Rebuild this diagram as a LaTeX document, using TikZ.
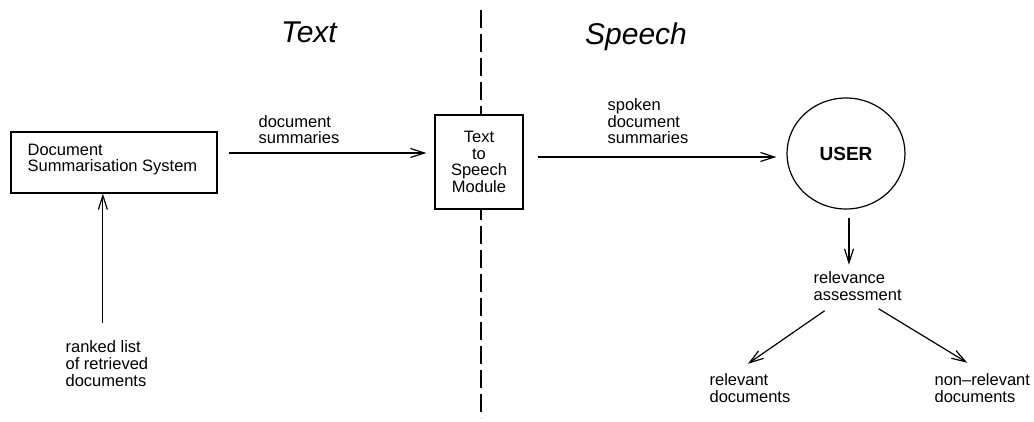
\documentclass[tikz,border=0pt]{standalone}
\usepackage{fontspec}
\setmainfont{Liberation Sans}
\usetikzlibrary{arrows.meta,shapes.geometric}

\newcommand\lblfont{\fontsize{16.5}{16.7}\selectfont}

\tikzset{
  lbl/.style={align=left,inner sep=0pt,font=\lblfont},
  box/.style={draw,fill=white,inner sep=0pt},
}

\begin{document}
\begin{tikzpicture}[x=1pt,y=1pt,->,>={Straight Barb[length=14pt,width=9pt]},line width=1.2pt]

\useasboundingbox (0,0) rectangle (1034,421);

\node[font=\fontsize{30}{30}\selectfont\itshape,anchor=base] (txt) at (309,378) {Text};
\node[font=\fontsize{30}{30}\selectfont\itshape,anchor=base] (spc) at (636,376) {Speech};

\coordinate (divtop) at (481,411);
\coordinate (divbot) at (481,3);
\path [draw,-,dash pattern=on 18pt off 6pt] (divtop) -- (divbot);

\node[box,minimum width=206,minimum height=61] (dss) at (114,258.5) {};
\node[lbl,anchor=base west] (dsstxt) at (27,249) {Document\\Summarisation System};

\node[box,minimum width=88,minimum height=94,align=center,font=\lblfont] (tts) at (479,259)
  {Text\\to\\Speech\\Module};

\node[draw,ellipse,minimum width=118,minimum height=111,inner sep=0pt,
  font=\fontsize{19}{19}\selectfont\bfseries] (user) at (846,267.5) {USER};

\node[lbl,anchor=base west] (rank) at (65,35) {ranked list\\of retrieved\\documents};
\node[lbl,anchor=base west] (docsum) at (258,277) {document\\summaries};
\node[lbl,anchor=base west] (spoken) at (607,277) {spoken\\document\\summaries};
\node[lbl,anchor=base west] (relev) at (813,121) {relevance\\assessment};
\node[lbl,anchor=base west] (reld) at (709,19) {relevant\\documents};
\node[lbl,anchor=base west] (nonrel) at (934,19) {non--relevant\\documents};

\draw ([shift={(-4pt,17pt)}]rank.north) coordinate (a0) -- (a0 |- dss.south);
\draw[shorten >=8pt] ([shift={(11pt,9.5pt)}]dss.east) coordinate (a1) -- (a1 -| tts.west);
\draw[shorten >=10pt] ([shift={(14pt,5pt)}]tts.east) coordinate (a2) -- (a2 -| user.west);
\draw[shorten >=6pt] ([shift={(3pt,-8pt)}]user.south) coordinate (a3) -- (a3 |- relev.north);
\draw ([shift={(-33pt,-10pt)}]relev.south) -- ([shift={(-2pt,9pt)}]reld.north);
\draw ([shift={(21pt,-8pt)}]relev.south) -- ([shift={(-15pt,10pt)}]nonrel.north);

\end{tikzpicture}
\end{document}
